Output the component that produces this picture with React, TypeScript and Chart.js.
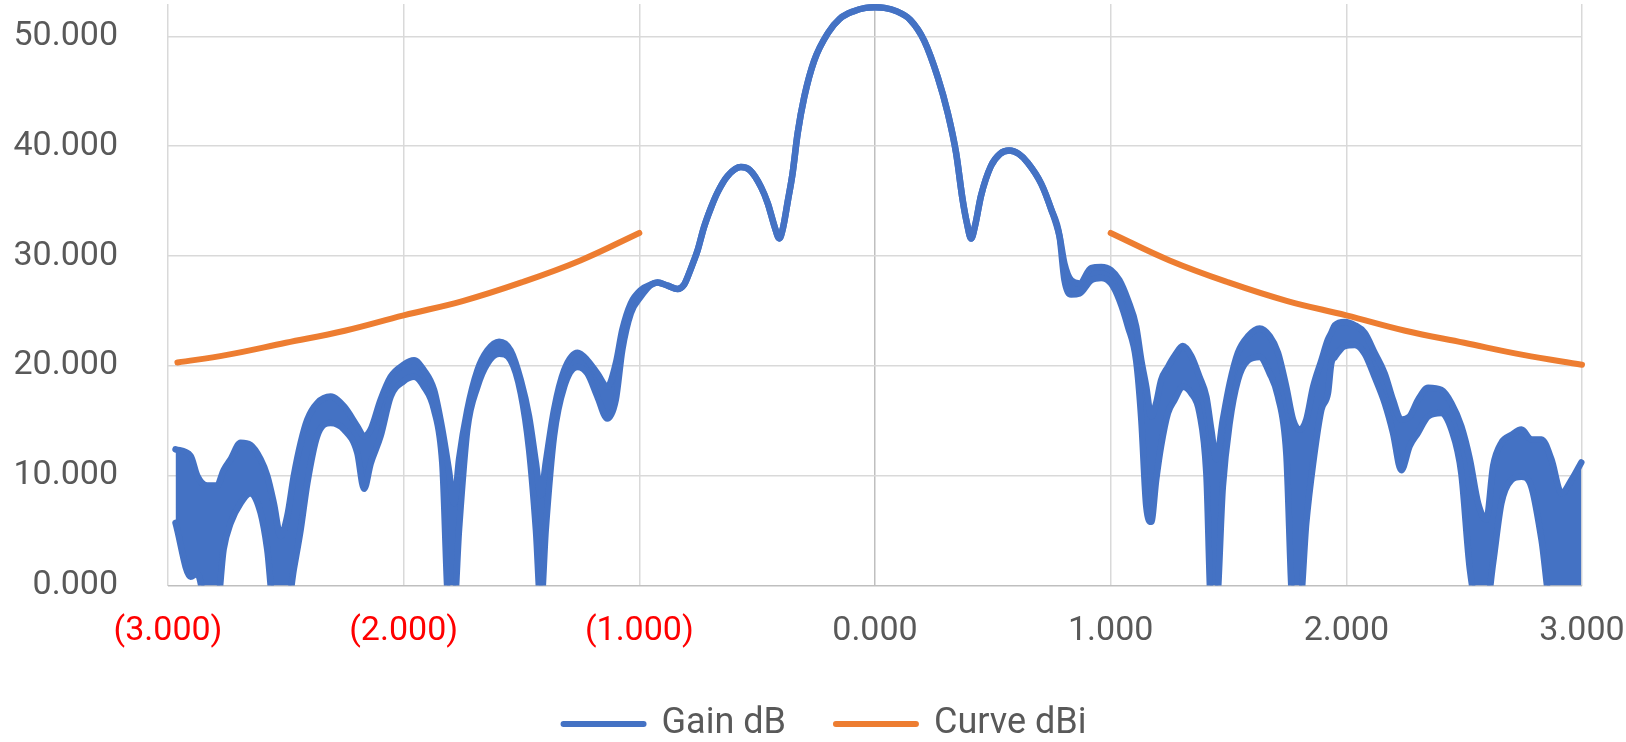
import React, { useEffect, useRef } from 'react';
import { Chart, registerables } from 'chart.js';

Chart.register(...registerables);

// ---- Data ----
const SERIES_NAMES = ['Gain dB', 'Curve dBi'];
const X_TICKS = [-3, -2, -1, 0, 1, 2, 3];
const Y_TICKS = [0, 10, 20, 30, 40, 50];

// Gain dB: x positions with upper / lower edge of the (noisy) trace
const GAIN_X = [
  -2.968, -2.904, -2.876, -2.834, -2.792, -2.764, -2.734, -2.692, -2.65, -2.607,
  -2.579, -2.551, -2.522, -2.494, -2.466, -2.437, -2.409, -2.367, -2.31, -2.253,
  -2.197, -2.168, -2.14, -2.098, -2.055, -2.0, -1.956, -1.914, -1.871, -1.836,
  -1.808, -1.786, -1.765, -1.73, -1.687, -1.645, -1.595, -1.546, -1.503, -1.468,
  -1.439, -1.418, -1.397, -1.362, -1.319, -1.262, -1.22, -1.178, -1.136, -1.1,
  -1.072, -1.036, -0.994, -0.95, -0.923, -0.88, -0.838, -0.81, -0.795, -0.768,
  -0.753, -0.726, -0.696, -0.668, -0.625, -0.569, -0.53, -0.484, -0.455, -0.425,
  -0.406, -0.39, -0.37, -0.35, -0.328, -0.3, -0.258, -0.2, -0.15, -0.09, -0.04, 0,
  0.04, 0.09, 0.15, 0.209, 0.266, 0.309, 0.344, 0.372, 0.39, 0.408, 0.425, 0.45,
  0.492, 0.53, 0.57, 0.61, 0.648, 0.705, 0.747, 0.783, 0.804, 0.832,
  0.868, 0.917, 0.96, 1.002, 1.037, 1.073, 1.108, 1.13, 1.151, 1.172,
  1.193, 1.214, 1.243, 1.271, 1.306, 1.342, 1.377, 1.406, 1.427, 1.448,
  1.476, 1.505, 1.54, 1.583, 1.632, 1.675, 1.71, 1.745, 1.774, 1.802,
  1.83, 1.859, 1.894, 1.922, 1.936, 1.951, 1.993, 2.036, 2.078, 2.12,
  2.163, 2.198, 2.233, 2.269, 2.304, 2.347, 2.403, 2.446, 2.488, 2.524,
  2.559, 2.594, 2.623, 2.658, 2.7, 2.743, 2.785, 2.828, 2.87, 2.913,
  2.955, 2.997,
];
const GAIN_HI = [
  12.4, 11.8, 10.0, 9.1, 9.1, 10.5, 11.5, 13.0, 12.8, 11.5,
  10.0, 7.5, 4.5, 6.3, 10.0, 13.0, 15.1, 16.6, 17.2, 16.3,
  14.5, 13.6, 14.2, 16.9, 19.0, 20.1, 20.5, 19.6, 17.8, 14.2,
  10.5, 7.5, 11.5, 16.0, 19.6, 21.4, 22.2, 21.4, 18.7, 15.4,
  11.2, 8.2, 11.2, 16.0, 19.6, 21.2, 20.5, 19.3, 18.1, 20.2,
  23.3, 25.7, 26.9, 27.4, 27.6, 27.3, 27.0, 27.4, 28.1, 29.6,
  30.5, 32.6, 34.4, 35.8, 37.3, 38.1, 37.8, 36.3, 34.8, 32.6,
  31.6, 32.6, 35.0, 37.5, 41.2, 44.5, 47.8, 50.3, 51.6, 52.3, 52.6, 52.65,
  52.6, 52.3, 51.5, 49.6, 46.3, 43.0, 39.4, 35.1, 33.0, 31.6, 32.8, 35.5,
  38.2, 39.3, 39.6, 39.3, 38.5, 36.6, 34.3, 31.8, 29.3, 27.8,
  27.5, 28.9, 29.0, 28.7, 27.8, 26.0, 23.6, 20.5, 18.1, 15.4,
  16.6, 18.7, 19.9, 20.9, 21.8, 20.9, 19.0, 17.2, 14.2, 11.5,
  15.1, 18.4, 21.2, 22.7, 23.4, 22.7, 21.2, 18.1, 15.1, 14.2,
  15.1, 18.1, 20.5, 22.4, 23.0, 23.7, 24.0, 23.7, 23.0, 21.2,
  19.3, 16.9, 15.1, 15.4, 16.9, 18.0, 17.8, 16.6, 14.5, 11.5,
  7.5, 6.0, 10.9, 13.0, 13.7, 14.2, 13.3, 13.3, 11.5, 8.4,
  9.6, 11.2,
];
const GAIN_LO = [
  5.7, 0.8, 1.1, -2, -2, 3.3, 5.7, 7.5, 8.4, 6.6,
  3.3, -2, -2, -2, 1.5, 5.1, 9.3, 13.6, 14.8, 14.2,
  12.1, 8.8, 11.1, 13.6, 17.2, 18.6, 19.0, 18.1, 16.0, 11.1,
  -2, -2, 5.1, 14.2, 18.1, 20.2, 21.1, 20.5, 17.5, 12.4,
  5.1, -2, 5.1, 13.6, 18.1, 19.9, 19.3, 17.2, 15.2, 16.9,
  21.5, 24.8, 26.3, 27.4, 27.6, 27.3, 27.0, 27.4, 28.1, 29.6,
  30.5, 32.6, 34.4, 35.8, 37.3, 38.1, 37.8, 36.3, 34.8, 32.6,
  31.6, 32.6, 35.0, 37.5, 41.2, 44.5, 47.8, 50.3, 51.6, 52.3, 52.6, 52.65,
  52.6, 52.3, 51.5, 49.6, 46.3, 43.0, 39.4, 35.1, 33.0, 31.6, 32.8, 35.5,
  38.2, 39.3, 39.6, 39.3, 38.5, 36.6, 34.3, 31.8, 27.8, 26.5,
  26.6, 27.8, 28.0, 27.5, 26.0, 23.6, 20.5, 15.1, 7.2, 5.8,
  9.6, 12.7, 15.7, 16.9, 18.1, 17.5, 15.7, 10.2, -2, -2,
  9.0, 14.8, 18.7, 20.5, 20.8, 19.3, 17.2, 12.1, -2, -2,
  5.7, 11.1, 16.0, 17.5, 20.2, 20.8, 21.8, 21.9, 21.1, 19.0,
  16.6, 13.9, 10.5, 12.7, 13.9, 15.4, 15.7, 14.2, 10.2, 1.5,
  -2, -2, 2.1, 7.5, 9.6, 9.9, 9.0, 4.2, -2, -2,
  -2, -2,
];

// Curve dBi: two branches (null separates them)
const CURVE_X = [-2.96, -2.75, -2.5, -2.25, -2.0, -1.75, -1.5, -1.25, -1.0, 0, 1.0, 1.25, 1.5, 1.75, 2.0, 2.25, 2.5, 2.75, 3.0];
const CURVE_Y = [20.3, 21.0, 22.1, 23.2, 24.6, 25.9, 27.6, 29.6, 32.1, null, 32.1, 29.6, 27.6, 25.9, 24.6, 23.2, 22.1, 21.0, 20.1];

const BLUE = '#4472C4';
const ORANGE = '#ED7D31';
const TEXT_GRAY = '#595959';
const GRID = '#D9D9D9';
const AXIS = '#BFBFBF';
const FONT = 'Roboto';

export default function App() {
  const canvasRef = useRef<HTMLCanvasElement | null>(null);

  useEffect(() => {
    document.body.style.margin = '0';
    const canvas = canvasRef.current;
    if (!canvas) return;

    const gainHi = GAIN_X.map((x, i) => ({ x, y: GAIN_HI[i] }));
    const gainLo = GAIN_X.map((x, i) => ({ x, y: GAIN_LO[i] }));
    const curve = CURVE_X.map((x, i) => ({ x, y: CURVE_Y[i] }));
    const clip = { left: 8, top: 8, right: 8, bottom: 0 };

    const legendShift = {
      id: 'legendShift',
      afterLayout(chart: any) {
        if (chart.legend) {
          chart.legend.left = 68;
        }
      },
    };

    const chart = new Chart(canvas, {
      type: 'line',
      data: {
        datasets: [
          {
            label: SERIES_NAMES[0],
            data: gainHi,
            borderColor: BLUE,
            backgroundColor: BLUE,
            borderWidth: 6.5,
            pointRadius: 0,
            borderCapStyle: 'round',
            borderJoinStyle: 'round',
            cubicInterpolationMode: 'monotone',
            fill: false,
            order: 1,
            clip,
          },
          {
            label: '_lo',
            data: gainLo,
            borderColor: BLUE,
            backgroundColor: BLUE,
            borderWidth: 6.5,
            pointRadius: 0,
            borderCapStyle: 'round',
            borderJoinStyle: 'round',
            cubicInterpolationMode: 'monotone',
            fill: '-1',
            order: 1,
            clip,
          },
          {
            label: SERIES_NAMES[1],
            data: curve,
            borderColor: ORANGE,
            backgroundColor: ORANGE,
            borderWidth: 6,
            pointRadius: 0,
            borderCapStyle: 'round',
            borderJoinStyle: 'round',
            tension: 0.4,
            spanGaps: false,
            fill: false,
            order: 0,
            clip,
          },
        ] as any,
      },
      plugins: [legendShift],
      options: {
        animation: false,
        responsive: false,
        events: [],
        layout: { padding: { left: 0, right: 44, top: 4, bottom: 0 } },
        plugins: {
          tooltip: { enabled: false },
          legend: {
            position: 'bottom',
            labels: {
              usePointStyle: true,
              pointStyleWidth: 80,
              padding: 50,
              color: TEXT_GRAY,
              font: { family: FONT, size: 36 },
              generateLabels: () =>
                [
                  { name: SERIES_NAMES[0], color: BLUE, idx: 0 },
                  { name: SERIES_NAMES[1], color: ORANGE, idx: 2 },
                ].map((s) => ({
                  text: s.name,
                  fillStyle: s.color,
                  strokeStyle: s.color,
                  lineWidth: 6,
                  lineCap: 'round',
                  pointStyle: 'line',
                  hidden: false,
                  fontColor: TEXT_GRAY,
                  datasetIndex: s.idx,
                })) as any,
            },
          },
        },
        scales: {
          x: {
            type: 'linear',
            min: -3,
            max: 3,
            afterBuildTicks: (s: any) => {
              s.ticks = X_TICKS.map((v) => ({ value: v }));
            },
            afterFit: (s: any) => {
              s.height = 70.5;
              s.paddingLeft = 0;
              s.paddingRight = 0;
            },
            border: { display: false },
            grid: {
              drawTicks: false,
              lineWidth: 1.5,
              color: (c: any) => (c.tick && c.tick.value === 0 ? AXIS : GRID),
            },
            ticks: {
              padding: 26,
              maxRotation: 0,
              autoSkip: false,
              font: { family: FONT, size: 34 },
              color: (c: any) => (c.tick && c.tick.value < 0 ? '#FF0000' : TEXT_GRAY),
              callback: (v: any) => {
                const n = Number(v);
                return n < 0 ? '(' + (-n).toFixed(3) + ')' : Math.abs(n).toFixed(3);
              },
            },
          },
          y: {
            type: 'linear',
            min: 0,
            max: 52.95,
            afterBuildTicks: (s: any) => {
              s.ticks = Y_TICKS.map((v) => ({ value: v }));
            },
            afterFit: (s: any) => {
              s.width = 168;
              s.paddingTop = 0;
              s.paddingBottom = 0;
            },
            border: { display: false },
            grid: {
              drawTicks: false,
              lineWidth: 1.5,
              color: (c: any) => (c.tick && c.tick.value === 0 ? AXIS : GRID),
            },
            ticks: {
              padding: 50,
              font: { family: FONT, size: 34 },
              color: TEXT_GRAY,
              callback: (v: any) => Number(v).toFixed(3),
            },
          },
        },
      } as any,
    });

    return () => chart.destroy();
  }, []);

  return (
    <div style={{ width: 1626, height: 742, overflow: 'hidden', position: 'relative', background: '#fff' }}>
      <canvas ref={canvasRef} width={1626} height={752} style={{ display: 'block', width: 1626, height: 752 }} />
    </div>
  );
}
